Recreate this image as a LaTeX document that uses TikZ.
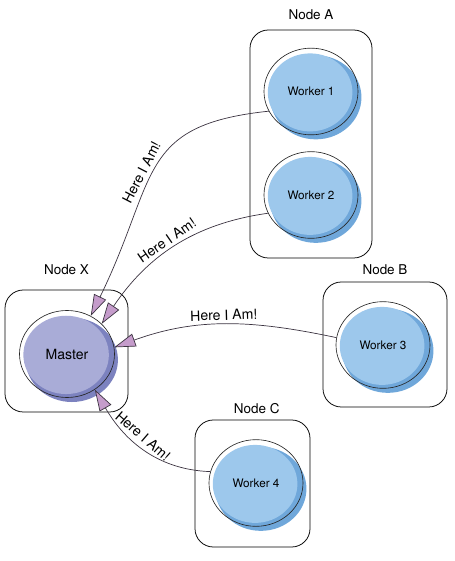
\documentclass[tikz,border=0pt]{standalone}
\usepackage{fontspec}
\setmainfont{TeX Gyre Heros}
\usetikzlibrary{
  shapes.geometric, % Shape "ellipse"
  arrows.meta,
  positioning,      % Function "of" (e.g. [above=of x])
  shadows,          % Offset fills behind the blobs
}
\definecolor{wlight}{HTML}{9DC8EC}
\definecolor{wdark}{HTML}{6FA7DA}
\definecolor{mlight}{HTML}{A9ACD7}
\definecolor{mdark}{HTML}{7C82BF}
\definecolor{tippink}{HTML}{C59CCB}
\definecolor{wire}{HTML}{3B3340}
\tikzset{
  font=\fontsize{10}{12}\selectfont,
  my box/.style={
    draw,
    line width=0.65pt,
    rounded corners=5.5mm,
    rectangle
  },
  my label/.style={
    inner sep=0pt,
    font=\fontsize{11.5}{14}\selectfont
  },
  my blob/.style={
    ellipse,
    draw=black!85,
    line width=0.55pt,
    inner sep=0pt
  },
  my worker/.style={
    my blob,
    minimum width=2.82cm,
    minimum height=2.6cm,
    drop shadow={shadow xshift=0.15cm, shadow yshift=-0.18cm,
      shadow scale=0.97, fill=wdark, opacity=1},
    drop shadow={shadow xshift=-0.03cm, shadow yshift=-0.03cm,
      shadow scale=0.9, fill=wlight, opacity=1}
  },
  my master/.style={
    my blob,
    minimum width=2.85cm,
    minimum height=2.61cm,
    font=\fontsize{12}{14}\selectfont,
    drop shadow={shadow xshift=0.15cm, shadow yshift=-0.18cm,
      shadow scale=0.97, fill=mdark, opacity=1},
    drop shadow={shadow xshift=-0.03cm, shadow yshift=-0.03cm,
      shadow scale=0.9, fill=mlight, opacity=1}
  },
  here/.style={
    -{Triangle[length=0.64cm, width=0.4cm, fill=tippink]},
    wire,
    line width=0.6pt
  },
  here label/.style={
    sloped,
    above,
    text=black,
    font=\fontsize{12}{14}\selectfont
  }
}

\begin{document}
\begin{tikzpicture}[x=0.03cm, y=0.03cm]
\useasboundingbox (0,0) rectangle (455,561);
% machines
\node[my box, minimum width=3.66cm, minimum height=6.84cm] (boxA) at (311,417) {};
\node[my box, minimum width=3.69cm, minimum height=3.66cm] (boxX) at (66.5,210) {};
\node[my box, minimum width=3.72cm, minimum height=3.75cm] (boxB) at (385,216.5) {};
\node[my box, minimum width=3.45cm, minimum height=3.81cm] (boxC) at (252.5,77.5) {};
\node[my label] (labA) [above=0.3cm of boxA]  {Node A};
\node[my label] (labX) [above=0.45cm of boxX] {Node X};
\node[my label] (labB) [above=0.21cm of boxB] {Node B};
\node[my label] (labC) [above=0.18cm of boxC, xshift=0.13cm] {Node C};
% processes
\node[my worker] (w1) at (311,469.5) {Worker 1};
\node[my worker] (w2) at (311,366)   {Worker 2};
\node[my worker] (w3) at (383,216)   {Worker 3};
\node[my worker] (w4) at (256,78)    {Worker 4};
\node[my master] (m)  at (67,207)    {Master};
% announcements
\draw[here] (w1.205) to[out=186, in=64, out looseness=1.25, in looseness=1.45]
    node[here label, pos=0.55] {Here I Am!} (m.58);
\draw[here] (w2.203) to[out=188, in=56]
    node[here label, pos=0.5] {Here I Am!} (m.41);
\draw[here] (w3.171) to[out=168, in=20]
    node[here label, pos=0.5] {Here I Am!} (m.8);
\draw[here] (w4.166) to[out=178, in=300]
    node[here label, pos=0.55] {Here I Am!} (m.308);
\end{tikzpicture}
\end{document}
